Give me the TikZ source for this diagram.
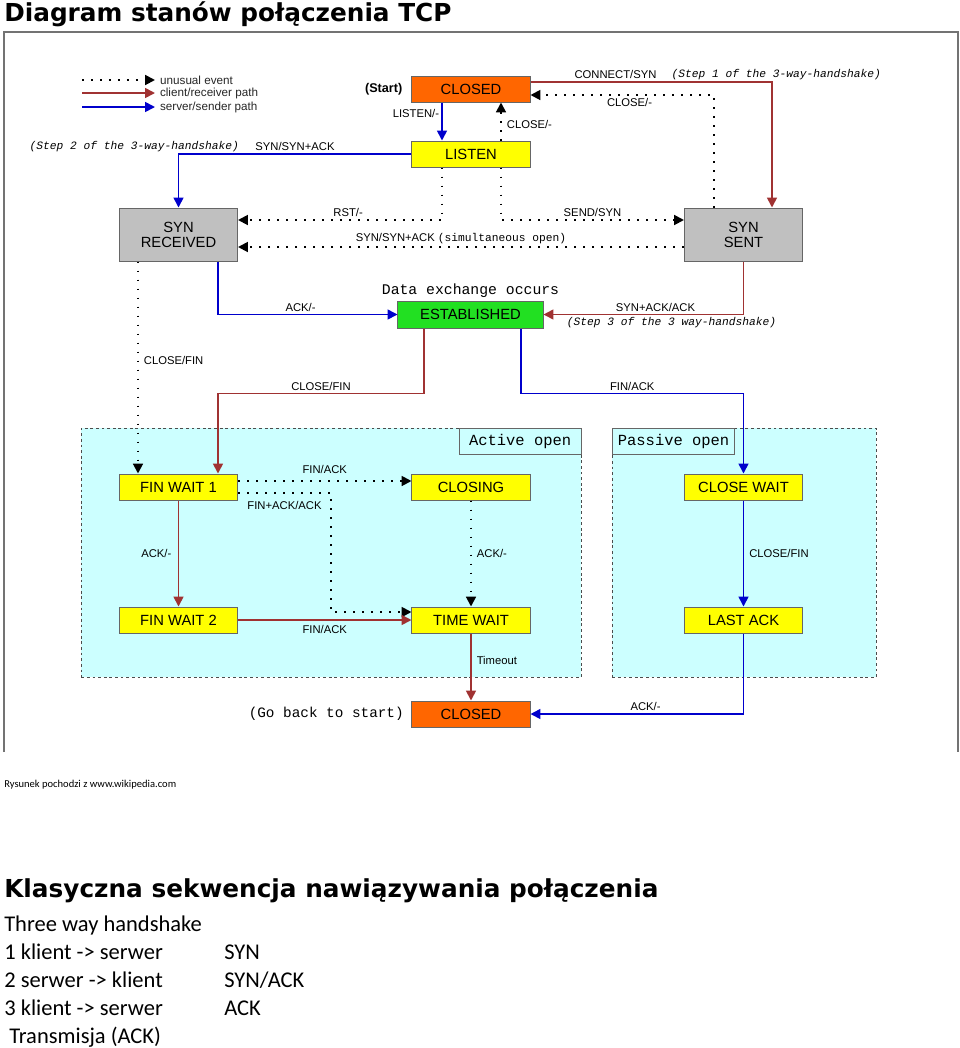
\documentclass[tikz,border=0pt]{standalone}
\usepackage{fontspec}
\setmainfont{Liberation Sans}
\newfontfamily\monofont{Liberation Mono}
\newfontfamily\headfont{DejaVu Sans}
\newfontfamily\slidefont{Carlito}
\usepackage{tikz}
\usetikzlibrary{positioning}
\usetikzlibrary{calc}
\usetikzlibrary{arrows.meta}
\definecolor{closedorange}{HTML}{FF6600}
\definecolor{stateyellow}{HTML}{FFFF00}
\definecolor{syngray}{HTML}{C0C0C0}
\definecolor{estgreen}{HTML}{22E022}
\definecolor{zonecyan}{HTML}{CCFFFF}
\definecolor{clientred}{HTML}{A03232}
\definecolor{serverblue}{HTML}{0000CC}
\tikzset{state/.style={draw=black!60, line width=0.7pt, minimum width=2.95cm, minimum height=0.65cm, inner sep=0pt, font=\fontsize{10.5}{10.6}\selectfont}}
\tikzset{closedstate/.style={state, fill=closedorange}}
\tikzset{waitstate/.style={state, fill=stateyellow}}
\tikzset{synstate/.style={state, fill=syngray, minimum height=1.325cm, align=center}}
\tikzset{eststate/.style={state, fill=estgreen, minimum width=3.625cm, minimum height=0.675cm}}
\tikzset{client/.style={draw=clientred, line width=1.2pt, -{Triangle[length=7pt,width=7pt]}}}
\tikzset{server/.style={draw=serverblue, line width=1.2pt, -{Triangle[length=7pt,width=7pt]}}}
\tikzset{unusual/.style={draw=black, line width=1.4pt, dash pattern=on 1.4pt off 5pt, -{Triangle[length=7pt,width=7pt]}}}
\tikzset{lbl/.style={font=\fontsize{8}{9}\selectfont, inner sep=1.5pt}}
\tikzset{note/.style={font=\monofont\itshape\fontsize{8}{9}\selectfont, inner sep=1.5pt}}
\tikzset{legtext/.style={font=\fontsize{8.3}{9}\selectfont, text=black!85, inner sep=3pt}}
\tikzset{zone/.style={draw=black!70, dash pattern=on 2pt off 2pt, fill=zonecyan, inner sep=0pt, minimum height=6.225cm}}
\tikzset{tagbox/.style={draw=black!60, line width=0.8pt, fill=zonecyan, minimum width=3.05cm, minimum height=0.65cm, inner sep=0pt, font=\monofont\fontsize{11}{12}\selectfont}}
\tikzset{slide/.style={anchor=base west, inner sep=0pt, font=\slidefont\fontsize{16}{19}\selectfont}}

\begin{document}
\begin{tikzpicture}[x=0.025cm, y=-0.025cm, node distance=2pt]
\useasboundingbox (0,0) rectangle (960,1048);
\node[anchor=base west, inner sep=0pt, font=\headfont\bfseries\fontsize{17.6}{20}\selectfont] (title) at (4,21) {Diagram stanów połączenia TCP};
\draw[black!55, line width=1.2pt] (4,752) -- (4,32) -- (958,32) -- (958,752);
%
\node[zone, minimum width=12.5cm, anchor=north west] (activezone) at (81,428) {};
\node[zone, minimum width=6.6cm, anchor=north west] (passivezone) at (612,428) {};
\node[tagbox, anchor=north east] (activetag) at (activezone.north east) {Active open};
\node[tagbox, anchor=north west] (passivetag) at (passivezone.north west) {Passive open};
%
\coordinate (legunusual) at (82,80);
\coordinate (legclient) at (82,93);
\coordinate (legserver) at (82,107);
\draw[unusual] (legunusual) -- ++(73,0) node[legtext, right] {unusual event};
\draw[client] (legclient) -- ++(73,0) node[legtext, right] {client/receiver path};
\draw[server] (legserver) -- ++(73,0) node[legtext, right] {server/sender path};
%
\node[closedstate] (closed) at (471,89) {CLOSED};
\node[font=\bfseries\fontsize{9}{10}\selectfont, left=3pt of closed] (start) {(Start)};
\node[waitstate] (listen) at (471,154) {LISTEN};
\node[synstate] (synrcvd) at (178.5,234.5) {SYN\\RECEIVED};
\node[synstate] (synsent) at (743.5,234.5) {SYN\\SENT};
\node[eststate] (estab) at (470.5,314.5) {ESTABLISHED};
\node[font=\monofont\fontsize{10.5}{12}\selectfont, inner sep=0pt, above=2pt of estab] (dataex) {Data exchange occurs};
\node[waitstate] (finwait1) at (178.5,487) {FIN WAIT 1};
\node[waitstate] (closing) at (471,487) {CLOSING};
\node[waitstate] (closewait) at (743.5,487) {CLOSE WAIT};
\node[waitstate] (finwait2) at (178.5,620) {FIN WAIT 2};
\node[waitstate] (timewait) at (471,620) {TIME WAIT};
\node[waitstate] (lastack) at (743.5,620) {LAST ACK};
\node[closedstate] (closedend) at (471,714) {CLOSED};
\node[font=\monofont\fontsize{10.2}{12}\selectfont, left=2pt of closedend] (goback) {(Go back to start)};
%
\draw[server] ($(closed.south)+(-29,0)$) -- ($(listen.north)+(-29,0)$) node[lbl, pos=0.3, left] {LISTEN/-};
\draw[unusual] ($(listen.north)+(30,0)$) -- ($(closed.south)+(30,0)$) node[lbl, pos=0.42, right=2pt] {CLOSE/-};
\draw[client] ($(closed.east)+(0,-7)$) -| ($(synsent.north)+(28.5,0)$) node[lbl, pos=0.176, above] (connlbl) {CONNECT/SYN};
\node[note, right=7pt of connlbl] (step1) {(Step 1 of the 3-way-handshake)};
\draw[unusual] ($(synsent.north)+(-29.5,0)$) |- ($(closed.east)+(0,6)$) node[lbl, pos=0.73, below] {CLOSE/-};
\draw[server] (listen.west) -| (synrcvd.north) node[lbl, pos=0.25, above] (synlbl) {SYN/SYN+ACK};
\node[note, left=8pt of synlbl] (step2) {(Step 2 of the 3-way-handshake)};
\draw[unusual] ($(listen.south)+(-29,0)$) |- ($(synrcvd.east)+(0,-14.5)$) node[lbl, pos=0.73, above] {RST/-};
\draw[unusual] ($(listen.south)+(30,0)$) |- ($(synsent.west)+(0,-14.5)$) node[lbl, pos=0.75, above] {SEND/SYN};
\draw[unusual] ($(synsent.west)+(0,12.5)$) -- ($(synrcvd.east)+(0,12.5)$) node[lbl, midway, above] {SYN/SYN+ACK {\monofont(simultaneous open)}};
\draw[server] ($(synrcvd.south)+(39.5,0)$) |- (estab.west) node[lbl, pos=0.73, above] {ACK/-};
\draw[client] (synsent.south) |- (estab.east) node[lbl, pos=0.72, above] {SYN+ACK/ACK} node[note, pos=0.68, below] {(Step 3 of the 3 way-handshake)};
\draw[unusual] ($(synrcvd.south)+(-40.5,0)$) -- ($(finwait1.north)+(-40.5,0)$) node[lbl, pos=0.465, right=2pt] {CLOSE/FIN};
\draw[client] ($(estab.south)+(-46.5,0)$) -- ++(0,65) -| ($(finwait1.north)+(39.5,0)$) node[lbl, pos=0.25, above] {CLOSE/FIN};
\draw[server] ($(estab.south)+(50.5,0)$) -- ++(0,65) -| (closewait.north) node[lbl, pos=0.25, above] {FIN/ACK};
%
\draw[unusual] ($(finwait1.east)+(0,-6)$) -- ($(closing.west)+(0,-6)$) node[lbl, midway, above=3pt] {FIN/ACK};
\draw[unusual] ($(finwait1.east)+(0,6)$) -- ++(93,0) node[lbl, midway, below=4pt] {FIN+ACK/ACK} |- ($(timewait.west)+(0,-8)$);
\draw[client] (finwait1.south) -- (finwait2.north) node[lbl, midway, left=3pt] {ACK/-};
\draw[unusual] (closing.south) -- (timewait.north) node[lbl, midway, right=2pt] {ACK/-};
\draw[client] (finwait2.east) -- (timewait.west) node[lbl, midway, below=2pt] {FIN/ACK};
\draw[client] (timewait.south) -- (closedend.north) node[lbl, pos=0.4, right=2pt] {Timeout};
\draw[server] (closewait.south) -- (lastack.north) node[lbl, midway, right=2pt] {CLOSE/FIN};
\draw[server] (lastack.south) |- (closedend.east) node[lbl, pos=0.73, above] {ACK/-};
%
\node[anchor=base west, inner sep=0pt, font=\slidefont\fontsize{7.5}{9}\selectfont] (source) at (4,787) {Rysunek pochodzi z www.wikipedia.com};
\node[anchor=base west, inner sep=0pt, font=\headfont\bfseries\fontsize{17.6}{20}\selectfont] (heading) at (4,897) {Klasyczna sekwencja nawiązywania połączenia};
\node[slide] (handshake) at (4,931) {Three way handshake};
\node[slide] (stepa) at (4,959) {1 klient -> serwer};
\node[slide] (stepb) at (4,987) {2 serwer -> klient};
\node[slide] (stepc) at (4,1015) {3 klient -> serwer};
\node[slide] (transmit) at (9,1043) {Transmisja (ACK)};
\node[slide] (msga) at (224,959) {SYN};
\node[slide] (msgb) at (224,987) {SYN/ACK};
\node[slide] (msgc) at (224,1015) {ACK};
\end{tikzpicture}
\end{document}
